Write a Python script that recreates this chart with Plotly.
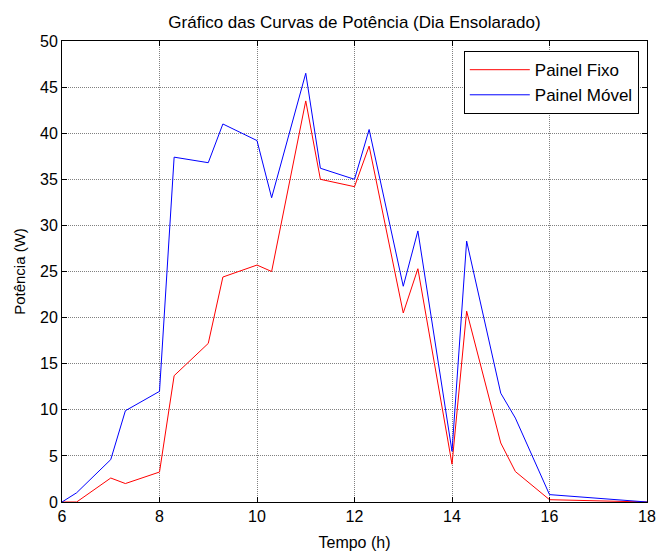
import plotly.graph_objects as go

tempo = [6, 6.3, 7, 7.3, 8, 8.3, 9, 9.3, 10, 10.3, 11, 11.3, 12, 12.3, 13, 13.3, 14, 14.3, 15, 15.3, 16, 17, 18]
painel_fixo = [0, 0, 2.6, 2.0, 3.25, 13.7, 17.2, 24.4, 25.7, 25.0, 43.5, 35.0, 34.2, 38.6, 20.5, 25.3, 4.1, 20.7, 6.4, 3.3, 0.25, 0.1, 0]
painel_movel = [0, 1.0, 4.6, 9.9, 12.0, 37.4, 36.8, 41.0, 39.2, 33.0, 46.5, 36.2, 35.0, 40.4, 23.4, 29.4, 5.5, 28.3, 11.8, 9.1, 0.8, 0.36, 0]

x_ticks = [6, 8, 10, 12, 14, 16, 18]
y_ticks = [0, 5, 10, 15, 20, 25, 30, 35, 40, 45, 50]

fig = go.Figure()
fig.add_trace(go.Scatter(x=tempo, y=painel_fixo, mode="lines", name="Painel Fixo",
                         line=dict(color="#ff0000", width=1)))
fig.add_trace(go.Scatter(x=tempo, y=painel_movel, mode="lines", name="Painel Móvel",
                         line=dict(color="#0000ff", width=1)))

font = "Liberation Sans, Arial, sans-serif"
axis_common = dict(
    showline=True, linecolor="black", linewidth=1, mirror="ticks",
    ticks="inside", ticklen=5, tickcolor="black", automargin=False,
    showgrid=True, gridcolor="#808080", griddash="1px,1px", gridwidth=1,
    zeroline=False, tickfont=dict(size=16, color="black", family=font),
)

fig.update_layout(
    width=657, height=551,
    margin=dict(l=62, r=10, t=41, b=49),
    paper_bgcolor="white", plot_bgcolor="white",
    font=dict(family=font, color="black", size=14),
    title=dict(text="Gráfico das Curvas de Potência (Dia Ensolarado)",
               x=0.5 + (62 - 10) / 2 / 657, xanchor="center", y=1 - 22 / 551, yanchor="middle",
               font=dict(size=17, family=font, color="black")),
    xaxis=dict(range=[6, 18], tickvals=x_ticks,
               title=dict(text="Tempo (h)", font=dict(size=16), standoff=12), **axis_common),
    yaxis=dict(range=[0, 50], tickvals=y_ticks,
               title=dict(text="Potência (W)", font=dict(size=15), standoff=10), **axis_common),
    legend=dict(x=0.986, y=0.978, xanchor="right", yanchor="top",
                bordercolor="black", borderwidth=1, bgcolor="white",
                font=dict(size=17, family=font, color="black"),
                tracegroupgap=0, itemwidth=60),
    showlegend=True,
)

fig.write_html("out.html", config={"displayModeBar": False},
               post_script="document.body.style.margin='0';")
